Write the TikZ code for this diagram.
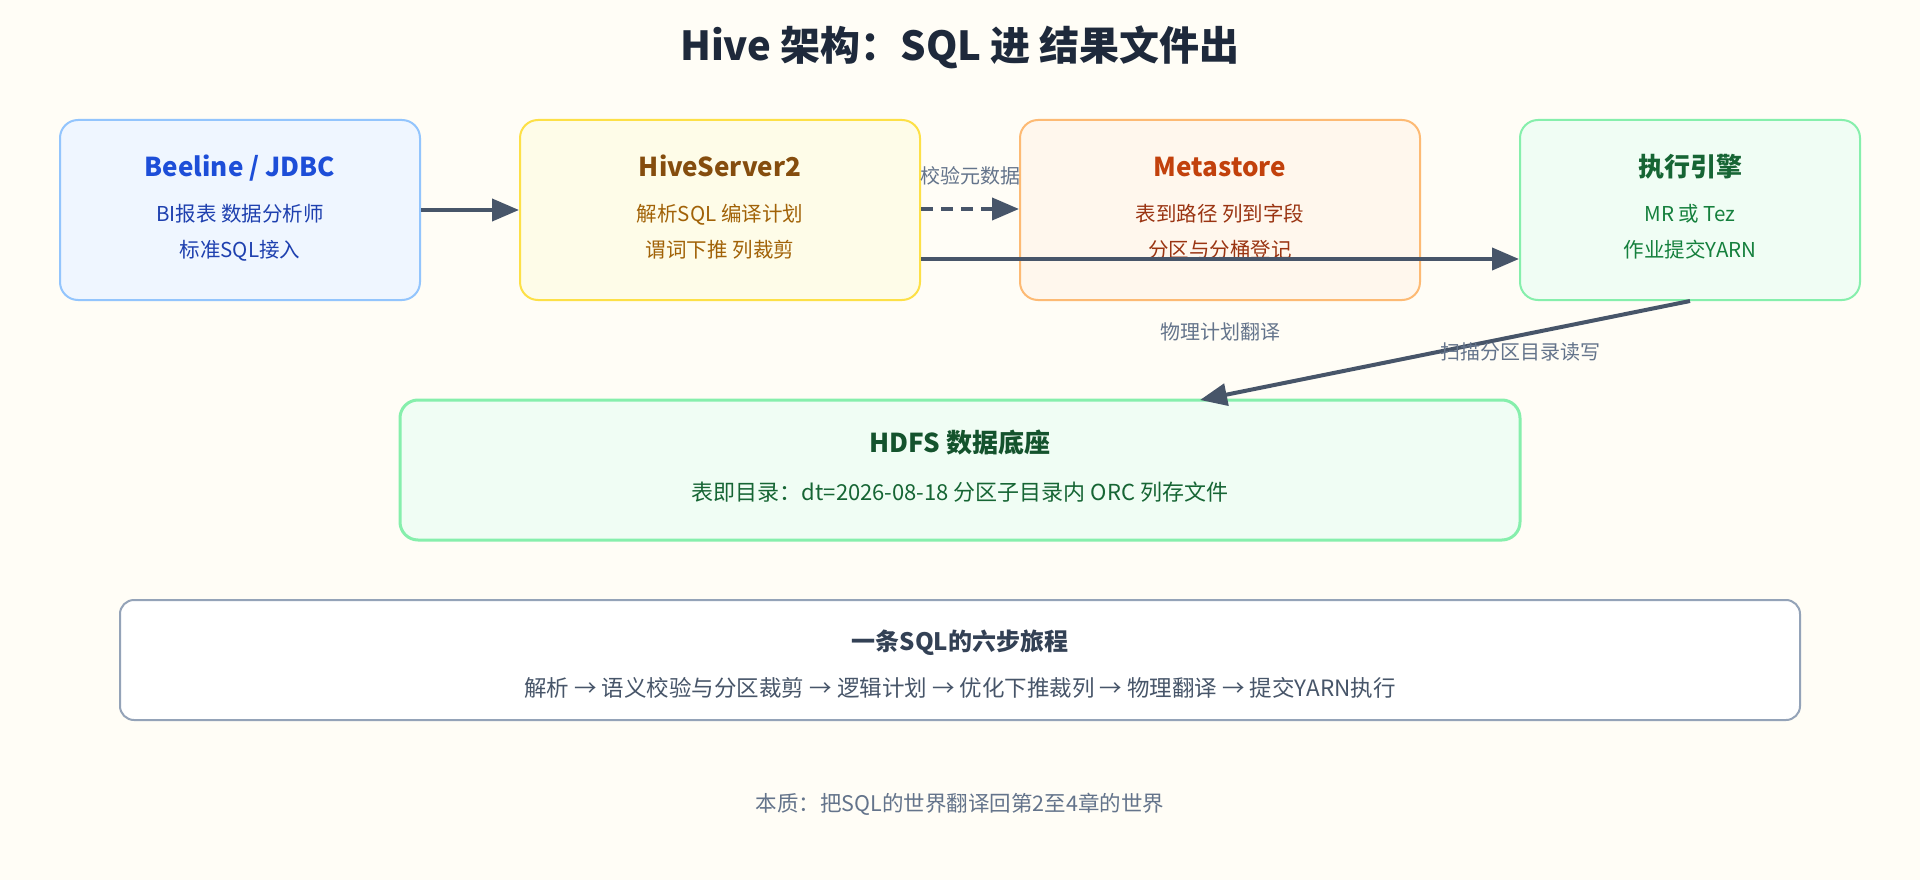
\documentclass[tikz,border=0pt]{standalone}
\usepackage{fontspec}
\setmainfont{Noto Sans CJK SC}
\usetikzlibrary{arrows.meta}
\definecolor{bgc}{HTML}{FFFDF6}
\definecolor{titlec}{HTML}{1E293B}
\definecolor{arrc}{HTML}{475569}
\definecolor{lblc}{HTML}{64748B}
\definecolor{bfill}{HTML}{EFF6FF}\definecolor{bdraw}{HTML}{93C5FD}\definecolor{btitle}{HTML}{1D4ED8}\definecolor{btext}{HTML}{1E40AF}
\definecolor{yfill}{HTML}{FEFCE8}\definecolor{ydraw}{HTML}{FDE047}\definecolor{ytitle}{HTML}{854D0E}\definecolor{ytext}{HTML}{A16207}
\definecolor{ofill}{HTML}{FFF7ED}\definecolor{odraw}{HTML}{FDBA74}\definecolor{otitle}{HTML}{C2410C}\definecolor{otext}{HTML}{9A3412}
\definecolor{gfill}{HTML}{F0FDF4}\definecolor{gdraw}{HTML}{86EFAC}\definecolor{gtitle}{HTML}{166534}\definecolor{gtext}{HTML}{15803D}
\definecolor{htitle}{HTML}{14532D}
\definecolor{sdraw}{HTML}{94A3B8}\definecolor{stitle}{HTML}{334155}
\begin{document}
\begin{tikzpicture}[x=1pt,y=-1pt,
  box/.style={draw, rounded corners=18pt, line width=2pt, inner sep=0pt, minimum height=180pt},
  txt/.style={inner sep=0pt, anchor=base},
  ttl/.style={txt, font=\fontsize{26}{30}\selectfont\bfseries},
  sub/.style={txt, font=\fontsize{20.5}{24}\selectfont},
  lbl/.style={txt, text=lblc, font=\fontsize{20}{24}\selectfont},
  arr/.style={draw=arrc, line width=4pt, -{Triangle[length=27pt,width=22pt]}},
  darr/.style={arr, dash pattern=on 12pt off 8pt}
]
\useasboundingbox[fill=bgc] (0,0) rectangle (1920,880);

\node[txt, text=titlec, font=\fontsize{40}{44}\selectfont\bfseries] (title) at (960,61) {Hive 架构：SQL 进 结果文件出};

% boxes
\node[box, fill=bfill, draw=bdraw, minimum width=360pt] (bee) at (240,210) {};
\node[box, fill=yfill, draw=ydraw, minimum width=400pt] (hs2) at (720,210) {};
\node[box, fill=ofill, draw=odraw, minimum width=400pt] (meta) at (1220,210) {};
\node[box, fill=gfill, draw=gdraw, minimum width=340pt] (exec) at (1690,210) {};
\node[box, fill=gfill, draw=gdraw, line width=3pt, minimum width=1120pt, minimum height=140pt] (hdfs) at (960,470) {};
\node[box, fill=white, draw=sdraw, rounded corners=14pt, minimum width=1680pt, minimum height=120pt] (sum) at (960,660) {};

% box texts
\node[ttl, text=btitle] (bee-t) at (240,176) {Beeline / JDBC};
\node[sub, text=btext] (bee-a) at (240,221) {BI报表 数据分析师};
\node[sub, text=btext] (bee-b) at (240,257) {标准SQL接入};

\node[ttl, text=ytitle] (hs2-t) at (720,176) {HiveServer2};
\node[sub, text=ytext] (hs2-a) at (720,221) {解析SQL 编译计划};
\node[sub, text=ytext] (hs2-b) at (720,257) {谓词下推 列裁剪};

\node[ttl, text=otitle] (meta-t) at (1220,176) {Metastore};
\node[sub, text=otext] (meta-a) at (1220,221) {表到路径 列到字段};
\node[sub, text=otext] (meta-b) at (1220,257) {分区与分桶登记};

\node[ttl, text=gtitle] (exec-t) at (1690,176) {执行引擎};
\node[sub, text=gtext] (exec-a) at (1690,221) {MR 或 Tez};
\node[sub, text=gtext] (exec-b) at (1690,257) {作业提交YARN};

\node[ttl, text=htitle] (hdfs-t) at (960,452) {HDFS 数据底座};
\node[txt, text=gtitle, font=\fontsize{22}{26}\selectfont] (hdfs-a) at (960,500) {表即目录：dt=2026-08-18 分区子目录内 ORC 列存文件};

\node[txt, text=stitle, font=\fontsize{24}{28}\selectfont\bfseries] (sum-t) at (960,650) {一条SQL的六步旅程};
\node[txt, text=arrc, font=\fontsize{22.5}{26}\selectfont] (sum-a) at (960,696) {解析 → 语义校验与分区裁剪 → 逻辑计划 → 优化下推裁列 → 物理翻译 → 提交YARN执行};

\node[txt, text=lblc, font=\fontsize{21.5}{25}\selectfont] (foot) at (960,811) {本质：把SQL的世界翻译回第2至4章的世界};

% connectors
\draw[arr] (bee.east) -- (hs2.west);
\draw[darr] ([yshift=1pt]hs2.east) -- ([yshift=1pt]meta.west);
\node[lbl] (l1) at (970,183) {校验元数据};
\draw[arr] ([yshift=-49pt]hs2.east) -- ([yshift=-49pt]exec.west);
\node[lbl] (l2) at (1220,339) {物理计划翻译};
\coordinate (hdfsin) at (1200,400);
\draw[arr] (exec.south) -- (hdfsin);
\node[lbl] (l3) at (1520,359) {扫描分区目录读写};
\end{tikzpicture}
\end{document}
